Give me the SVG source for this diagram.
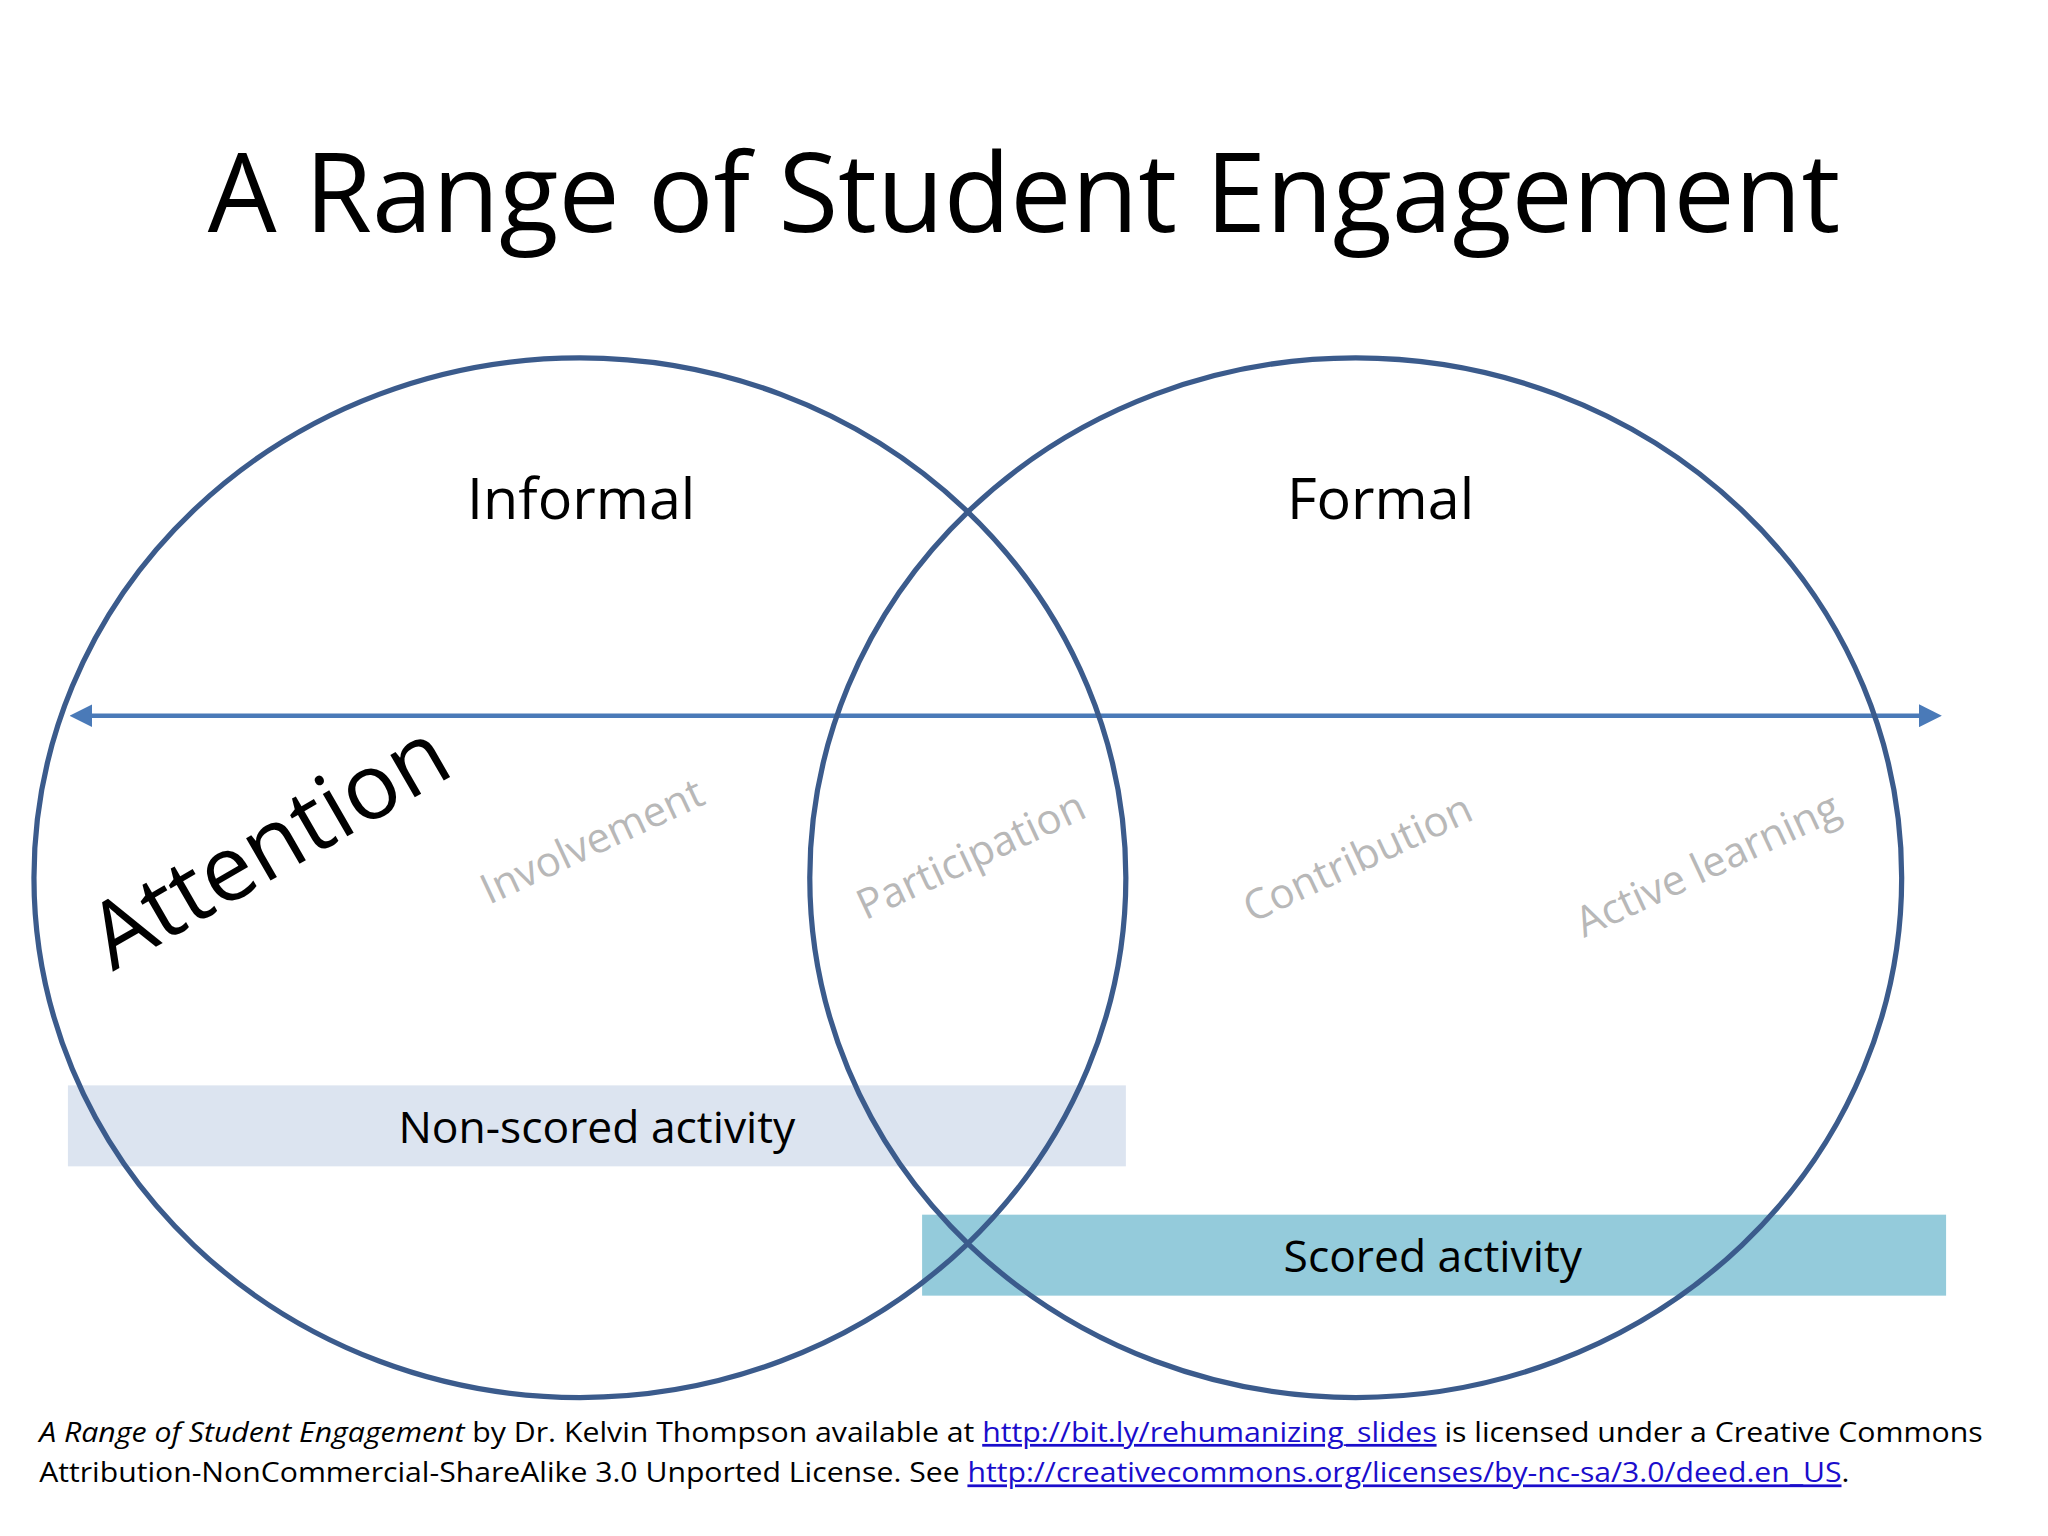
<svg xmlns="http://www.w3.org/2000/svg" width="2048" height="1536" viewBox="0 0 2048 1536">
<style>
.t{font-family:"Open Sans","DejaVu Sans",sans-serif;fill:#000}
.g{font-family:"Open Sans","DejaVu Sans",sans-serif;fill:#b8b8b8;font-size:32px}
.c{fill:none;stroke:#3b5b8c;stroke-width:4}
.f{font-family:"Open Sans","DejaVu Sans",sans-serif;font-size:21px;fill:#000}
.l{fill:#1a0dcc;text-decoration:underline}
</style>
<defs><marker id="ah" viewBox="0 0 10 10" refX="5" refY="5" markerWidth="5" markerHeight="5" orient="auto-start-reverse"><path d="M0,0L10,5L0,10z" fill="#4a7ab8"/></marker></defs>
<rect width="2048" height="1536" fill="#fff"/>
<g transform="scale(1.3061)">
<text id="title" class="t" x="784" y="178" font-size="84" text-anchor="middle" textLength="1250" lengthAdjust="spacingAndGlyphs">A Range of Student Engagement</text>
<g id="bar-nonscored"><rect x="52" y="831" width="810" height="62" fill="#dce4f0"/><text class="t" x="457" y="875" font-size="34" text-anchor="middle">Non-scored activity</text></g>
<g id="bar-scored"><rect x="706" y="930" width="784" height="62" fill="#94cbdb"/><text class="t" x="1097" y="974" font-size="34" text-anchor="middle">Scored activity</text></g>
<g id="connectors"><line x1="62" y1="548" x2="1478" y2="548" stroke="#4a7ab8" stroke-width="3.5" marker-start="url(#ah)" marker-end="url(#ah)"/></g>
<g id="informal"><ellipse class="c" cx="444" cy="672" rx="418" ry="398"/><text class="t" x="445" y="397" font-size="44" text-anchor="middle">Informal</text></g>
<g id="formal"><ellipse class="c" cx="1038" cy="672" rx="418" ry="398"/><text class="t" x="1057" y="397" font-size="44" text-anchor="middle">Formal</text></g>
<g id="attention"><text class="t" font-size="70" text-anchor="middle" transform="translate(218,668) rotate(-30)">Attention</text></g>
<g id="involvement"><text class="g" text-anchor="middle" transform="translate(458,654) rotate(-25)">Involvement</text></g>
<g id="participation"><text class="g" text-anchor="middle" transform="translate(748,665) rotate(-25)">Participation</text></g>
<g id="contribution"><text class="g" text-anchor="middle" transform="translate(1044,667) rotate(-25)">Contribution</text></g>
<g id="active"><text class="g" text-anchor="middle" transform="translate(1312,672) rotate(-25)">Active learning</text></g>
<g id="footer">
<text class="f" x="30" y="1104" textLength="1488" lengthAdjust="spacingAndGlyphs"><tspan font-style="italic">A Range of Student Engagement</tspan> by Dr. Kelvin Thompson available at <tspan class="l">http://bit.ly/rehumanizing_slides</tspan> is licensed under a Creative Commons</text>
<text class="f" x="30" y="1135" textLength="1386" lengthAdjust="spacingAndGlyphs">Attribution-NonCommercial-ShareAlike 3.0 Unported License. See <tspan class="l">http://creativecommons.org/licenses/by-nc-sa/3.0/deed.en_US</tspan>.</text>
</g>
</g>
</svg>
